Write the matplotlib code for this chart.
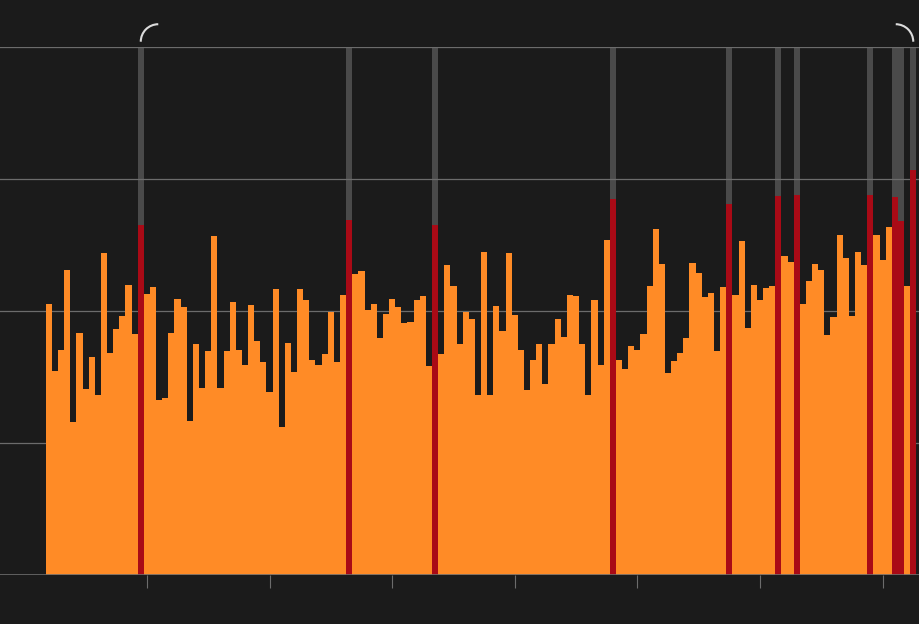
import matplotlib
matplotlib.use("Agg")
import matplotlib.pyplot as plt
from matplotlib.patches import Arc

# one bar per year, 1884-2025
years = list(range(1884, 2026))

values = [
    51.3, 38.6, 42.7, 57.8, 28.9, 45.8, 35.3, 41.3, 34.1, 61.0,
    42.0, 46.6, 49.1, 54.9, 45.7, 66.2, 53.3, 54.6, 33.2, 33.5,
    45.9, 52.2, 50.8, 29.1, 43.7, 35.4, 42.4, 64.2, 35.5, 42.5,
    51.7, 42.6, 39.8, 51.1, 44.4, 40.4, 34.7, 54.2, 28.0, 44.0,
    38.5, 54.1, 52.1, 40.8, 39.8, 41.9, 49.8, 40.3, 53.0, 67.2,
    57.1, 57.6, 50.1, 51.3, 44.9, 49.4, 52.2, 50.7, 47.7, 48.0,
    52.0, 52.8, 39.6, 66.2, 41.8, 58.8, 54.8, 43.7, 49.9, 48.5,
    34.1, 61.2, 34.0, 50.9, 46.3, 61.0, 49.2, 42.7, 35.0, 40.7,
    43.8, 36.2, 43.8, 48.5, 45.1, 53.0, 52.8, 43.8, 34.1, 52.1,
    39.8, 63.5, 71.2, 40.7, 39.0, 43.4, 42.7, 45.6, 54.7, 65.5,
    58.9, 38.3, 40.5, 42.0, 44.9, 59.1, 57.2, 52.6, 53.4, 42.4,
    54.5, 70.3, 53.0, 63.3, 46.8, 54.9, 52.0, 54.3, 54.8, 71.8,
    60.4, 59.3, 71.9, 51.3, 55.6, 58.9, 57.8, 45.5, 48.9, 64.4,
    60.0, 49.0, 61.1, 58.7, 72.0, 64.3, 59.6, 66.0, 71.5, 67.0,
    54.8, 76.7,
]

highlight_years = [1899, 1933, 1947, 1976, 1995, 2003, 2006, 2018, 2022, 2023, 2025]

tick_years = [1900, 1920, 1940, 1960, 1980, 2000, 2020]

BG = "#1b1b1b"
ORANGE = "#ff8b26"
RED = "#a90a16"
GREY_BAR = "#4a4a4a"
GRID = "#6c6c6c"

fig = plt.figure(figsize=(9.2, 6.24), dpi=100, facecolor=BG)
ax = fig.add_axes([0, (624 - 575) / 624, 1, (575 - 47) / 624])
ax.set_facecolor(BG)

x = list(range(len(years)))
hl = [years.index(y) for y in highlight_years]
colors = [RED if i in hl else ORANGE for i in x]

# grey backdrop for highlighted years
ax.bar(hl, [100] * len(hl), width=1.0, color=GREY_BAR, linewidth=0, zorder=1)

ax.bar(x, values, width=1.0, color=colors, linewidth=0, zorder=3)

for yv in [25, 50, 75, 100]:
    ax.axhline(yv, color=GRID, linewidth=0.9, zorder=2)
ax.axhline(0, color=GRID, linewidth=1.2, zorder=4)

ax.set_xlim(-7.96, 142.1)
ax.set_ylim(0, 100)

ax.set_xticks([years.index(y) for y in tick_years])
ax.set_xticklabels([])
ax.set_yticks([])
ax.tick_params(axis="x", length=9.4, width=0.8, color=GRID, direction="out")
for s in ax.spines.values():
    s.set_visible(False)

# bracket arcs over the first and last highlighted years
rx = 17.5 / 6.129
ry = 17.5 / 5.28
ax.add_patch(Arc((hl[0] + rx, 101.0), 2 * rx, 2 * ry, theta1=90, theta2=180,
                 color="#dcdcdc", linewidth=1.5, clip_on=False))
ax.add_patch(Arc((hl[-1] - rx, 101.0), 2 * rx, 2 * ry, theta1=0, theta2=90,
                 color="#dcdcdc", linewidth=1.5, clip_on=False))

fig.savefig("out.png", dpi=100, facecolor=BG)
